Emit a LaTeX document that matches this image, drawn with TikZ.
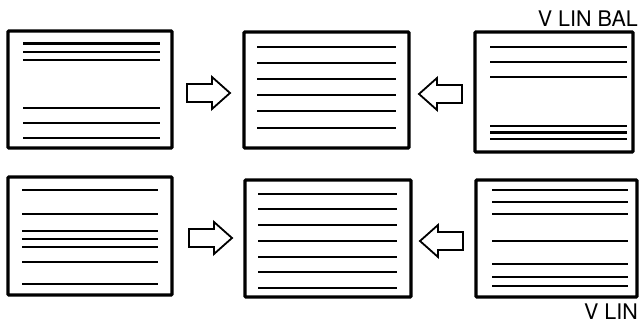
\documentclass[tikz,border=0pt]{standalone}
\usepackage{fontspec}
\setsansfont{TeX Gyre Heros}
\tikzset{
  screen/.style={draw, line width=3.4pt, rounded corners=1pt},
  scanline/.style={line width=2.1pt},
  arrowline/.style={line width=1.8pt, line join=miter},
  hollowarrow/.pic={
    \draw[arrowline] (0,-9) -- (25,-9) -- (25,-16) -- (43,0) -- (25,16) -- (25,9) -- (0,9) -- cycle;
  },
  tag/.style={font=\sffamily\fontsize{21.5}{26}\selectfont, inner sep=0pt, anchor=base east}
}
\begin{document}
\begin{tikzpicture}[x=1pt, y=-1pt]
  \useasboundingbox (0,0) rectangle (640,324);

  % top row: screens
  \draw[screen] (8,31) rectangle (172,148);
  \foreach \y in {43.5,52,60,108,123,138}
    \draw[scanline] (23,\y) -- (160,\y);
  \draw[screen] (244,32) rectangle (409,148);
  \foreach \y in {47,63,79,95,111,128}
    \draw[scanline] (257,\y) -- (396,\y);
  \draw[screen] (475,32) rectangle (633,152);
  \foreach \y in {47,62,77,126,132.5,139}
    \draw[scanline] (490,\y) -- (627,\y);

  % top row: arrows
  \pic at (187,93) {hollowarrow};
  \pic[xscale=-1] at (462,94) {hollowarrow};

  % bottom row: screens
  \draw[screen] (8,177) rectangle (172,295);
  \foreach \y in {190,214,231,239,247,262,284}
    \draw[scanline] (22,\y) -- (158,\y);
  \draw[screen] (245,180) rectangle (411,297);
  \foreach \y in {194,209,225,241,257,272,288}
    \draw[scanline] (258,\y) -- (397,\y);
  \draw[screen] (476,180) rectangle (637,297);
  \foreach \y in {190,202,214,241,264,277,286}
    \draw[scanline] (492,\y) -- (628,\y);

  % bottom row: arrows
  \pic at (189,238) {hollowarrow};
  \pic[xscale=-1] at (463,241) {hollowarrow};

  % labels
  \node[tag] (balTag) at (638,26) {V LIN BAL};
  \node[tag] (linTag) at (638,319) {V LIN};
\end{tikzpicture}
\end{document}
